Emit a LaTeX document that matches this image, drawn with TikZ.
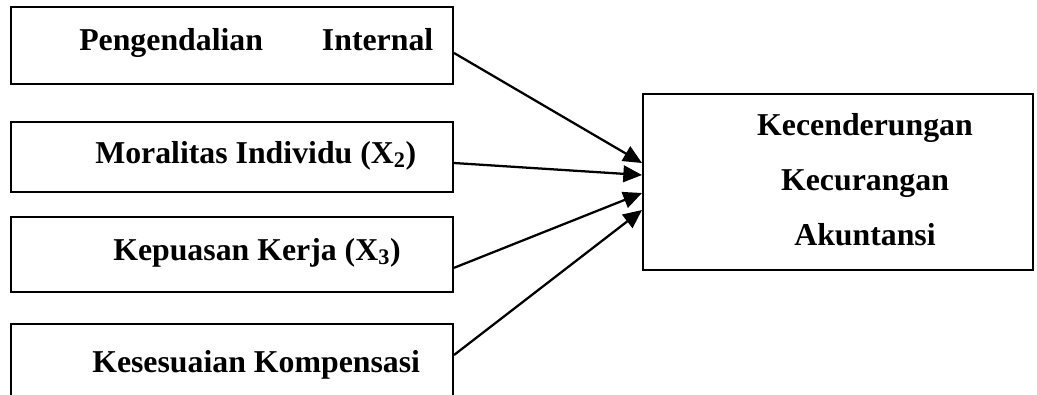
\documentclass[tikz,border=0pt]{standalone}
\usepackage{fontspec}
\setmainfont{Liberation Serif}
\usetikzlibrary{arrows.meta}
\begin{document}
\begin{tikzpicture}[x=0.75pt,y=-0.75pt,
  box/.style={draw,line width=1.5pt,inner sep=0pt,rectangle},
  lbl/.style={font=\fontsize{23.85}{28}\selectfont\bfseries,inner sep=0pt},
  panah/.style={line width=1.7pt,-{Triangle[length=14pt,width=12.5pt]}}]
\useasboundingbox (0,0) rectangle (1037,394);
\clip (0,0) rectangle (1037,394);
% kotak variabel bebas
\node[box,minimum width=331.5pt,minimum height=57.75pt] (x1) at (232,45.5) {};
\node[box,minimum width=331.5pt,minimum height=52.5pt] (x2) at (232,157) {};
\node[box,minimum width=331.5pt,minimum height=56.25pt] (x3) at (232,254.5) {};
\node[box,minimum width=331.5pt,minimum height=60pt] (x4) at (232,364) {};
\node[lbl,anchor=base west,text width=265.5pt] (t1) at (79,50) {Pengendalian\hfill Internal};
\node[lbl,anchor=base west] (t2) at (95,163) {Moralitas Individu (X\textsubscript{2})};
\node[lbl,anchor=base west] (t3) at (113,260) {Kepuasan Kerja (X\textsubscript{3})};
\node[lbl,anchor=base west] (t4) at (92,372) {Kesesuaian Kompensasi};
% kotak variabel terikat
\node[box,minimum width=292.5pt,minimum height=132pt] (y) at (838,182) {};
\node[lbl,anchor=base] (y1) at (865,135) {Kecenderungan};
\node[lbl,anchor=base] (y2) at (865,190) {Kecurangan};
\node[lbl,anchor=base] (y3) at (865,245) {Akuntansi};
% panah
\draw[panah] ([yshift=-5.6pt]x1.east) -- ([yshift=14.25pt]y.west);
\draw[panah] ([yshift=-4.5pt]x2.east) -- ([yshift=5.25pt]y.west);
\draw[panah] ([yshift=-10pt]x3.east) -- ([yshift=-8.25pt]y.west);
\draw[panah] ([yshift=6.75pt]x4.east) -- ([yshift=-21pt]y.west);
\end{tikzpicture}
\end{document}
